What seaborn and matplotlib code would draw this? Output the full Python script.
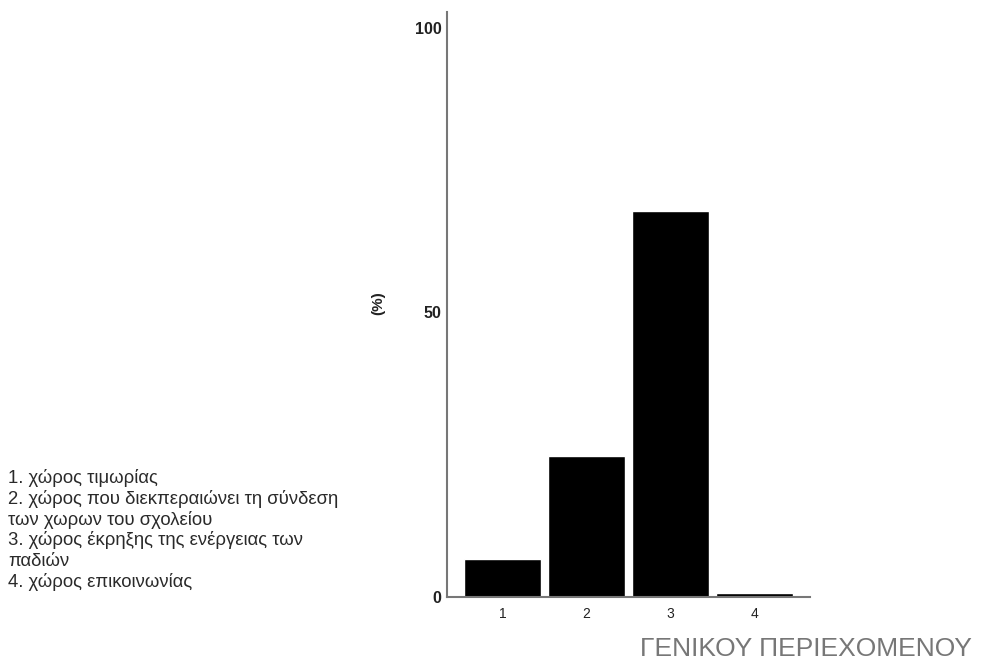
import matplotlib
matplotlib.use("Agg")
import matplotlib.pyplot as plt
import seaborn as sns
import pandas as pd

# data
categories = ["1", "2", "3", "4"]
percent = [6.7, 24.8, 67.8, 0.7]
y_ticks = [0, 50, 100]
legend_lines = [
    "1. χώρος τιμωρίας",
    "2. χώρος που διεκπεραιώνει τη σύνδεση",
    "των χωρων του σχολείου",
    "3. χώρος έκρηξης της ενέργειας των",
    "παδιών",
    "4. χώρος επικοινωνίας",
]
footer = "ΓΕΝΙΚΟΥ ΠΕΡΙΕΧΟΜΕΝΟΥ"

sns.set_style("white")
plt.rcParams["font.family"] = ["Liberation Sans", "DejaVu Sans"]

df = pd.DataFrame({"cat": categories, "pct": percent})

W, H = 985, 669
fig = plt.figure(figsize=(W / 100, H / 100), dpi=100)
ax = fig.add_axes([447 / W, 1 - 597 / H, (810 - 447) / W, (597 - 12) / H])

sns.barplot(data=df, x="cat", y="pct", color="black", saturation=1,
            width=0.92, ax=ax)

ax.set_xlim(-0.66, 3.66)
ax.set_ylim(0, 102.8)
ax.set_yticks(y_ticks)
ax.set_yticklabels([str(t) for t in y_ticks], fontsize=11.5, fontweight="bold",
                   color="#222222")
ax.tick_params(axis="x", length=0, labelsize=10, pad=7, colors="#222222")
ax.tick_params(axis="y", length=0, pad=4)
ax.set_xlabel("")
ax.set_ylabel("(%)", fontsize=11, fontweight="bold", color="#222222")
ax.yaxis.set_label_coords(-0.17, 0.503)

sns.despine(ax=ax)
for side in ["left", "bottom"]:
    ax.spines[side].set_color("#777777")
    ax.spines[side].set_linewidth(1.5)

# explanation of the categories, one line at a time
for i, line in enumerate(legend_lines):
    fig.text(8 / W, 1 - (483 + i * 20.8) / H, line, fontsize=13.3,
             va="baseline", ha="left", color="#2a2a2a")

fig.text(972 / W, 1 - 656 / H, footer, fontsize=19, color="#777777",
         ha="right", va="baseline")

fig.savefig("out.png", dpi=100)
